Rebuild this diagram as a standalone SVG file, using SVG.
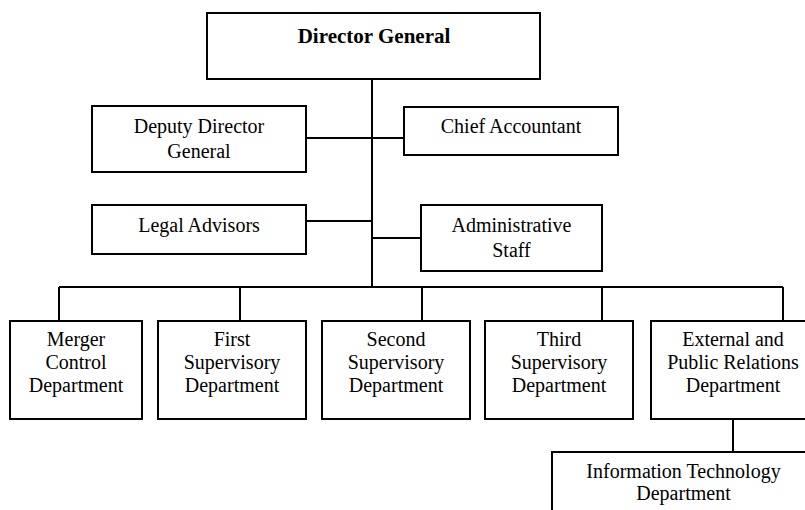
<svg xmlns="http://www.w3.org/2000/svg" width="805" height="510" viewBox="0 0 805 510">
<style>
.box{fill:#fff;stroke:#000;stroke-width:2}
.ln{fill:none;stroke:#000;stroke-width:2}
.t{font-family:'Liberation Serif', 'DejaVu Serif', serif;font-size:20px;fill:#000;text-anchor:middle}
.b{font-weight:bold;font-size:21px}
</style>
<rect width="805" height="510" fill="#fff"/>
<g id="connectors">
<path class="ln" d="M372 79V287"/>
<path class="ln" d="M306 138H404"/>
<path class="ln" d="M306 221H372"/>
<path class="ln" d="M372 238H421"/>
<path class="ln" d="M59 287H783"/>
<path class="ln" d="M59 287V321M240 287V321M422 287V321M602 287V321M783 287V321"/>
<path class="ln" d="M733 419V452"/>
</g>
<g class="t" font-family="Liberation Serif, serif">
<g id="director-general"><rect class="box" x="207" y="13" width="333" height="66"/><text class="b" x="374" y="43">Director General</text></g>
<g id="deputy-director-general"><rect class="box" x="92" y="106" width="214" height="66"/><text x="199" y="133">Deputy Director</text><text x="199" y="158">General</text></g>
<g id="chief-accountant"><rect class="box" x="404" y="107" width="214" height="48"/><text x="511" y="133">Chief Accountant</text></g>
<g id="legal-advisors"><rect class="box" x="92" y="205" width="214" height="49"/><text x="199" y="232">Legal Advisors</text></g>
<g id="administrative-staff"><rect class="box" x="421" y="205" width="181" height="66"/><text x="511.5" y="232">Administrative</text><text x="511.5" y="257">Staff</text></g>
<g id="merger-control"><rect class="box" x="10" y="321" width="132" height="98"/><text x="76" y="346">Merger</text><text x="76" y="369">Control</text><text x="76" y="392">Department</text></g>
<g id="first-supervisory"><rect class="box" x="158" y="321" width="148" height="98"/><text x="232" y="346">First</text><text x="232" y="369">Supervisory</text><text x="232" y="392">Department</text></g>
<g id="second-supervisory"><rect class="box" x="322" y="321" width="148" height="98"/><text x="396" y="346">Second</text><text x="396" y="369">Supervisory</text><text x="396" y="392">Department</text></g>
<g id="third-supervisory"><rect class="box" x="485" y="321" width="148" height="98"/><text x="559" y="346">Third</text><text x="559" y="369">Supervisory</text><text x="559" y="392">Department</text></g>
<g id="external-public-relations"><rect class="box" x="651" y="321" width="164" height="98"/><text x="733" y="346">External and</text><text x="733" y="369">Public Relations</text><text x="733" y="392">Department</text></g>
<g id="information-technology"><rect class="box" x="552" y="452" width="263" height="70"/><text x="683.5" y="478">Information Technology</text><text x="683.5" y="500">Department</text></g>
</g>
</svg>
